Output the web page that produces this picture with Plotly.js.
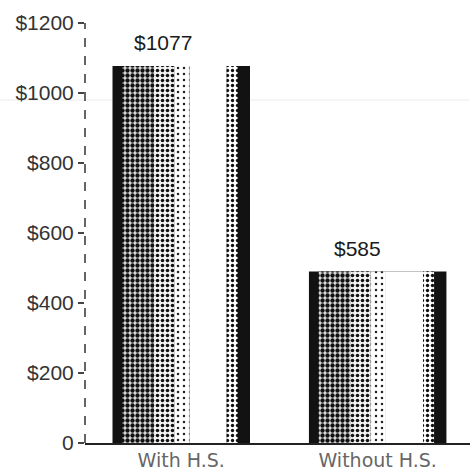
<!DOCTYPE html>
<html>
<head>
<meta charset="utf-8">
<script src="https://cdn.plot.ly/plotly-3.0.1.min.js"></script>
<style>
  html, body { margin: 0; padding: 0; background: #fff; }
  #chart { width: 470px; height: 470px; }
</style>
</head>
<body>
<div id="chart"></div>
<script>
// ---- data ----
const categories = ["With H.S.", "Without H.S."];
const barHeights = [1077, 490];          // bar tops as drawn
const valueLabels = ["$1077", "$585"];   // printed labels above bars
const tickValues = [0, 200, 400, 600, 800, 1000, 1200];
const tickLabels = ["0", "$200", "$400", "$600", "$800", "$1000", "$1200"];

// ---- styling of the cylinder-like shading (fractions of bar width) ----
const BAR_W = 0.70;
const layers = [
  { a: 0.00, b: 1.00, color: "#121212" },
  { a: 0.07, b: 0.30, color: "#e0e0e0", pat: { shape: ".", fgcolor: "#111", solidity: 0.6, size: 5 } },
  { a: 0.30, b: 0.45, color: "#f2f2f2", pat: { shape: ".", fgcolor: "#111", solidity: 0.4, size: 5 } },
  { a: 0.45, b: 0.56, color: "#ffffff", pat: { shape: ".", fgcolor: "#222", solidity: 0.14, size: 6 } },
  { a: 0.56, b: 0.83, color: "#ffffff" },
  { a: 0.83, b: 0.91, color: "#ffffff", pat: { shape: ".", fgcolor: "#111", solidity: 0.35, size: 5 } }
];

const traces = layers.map(L => {
  const m = { color: L.color, line: { width: 0 } };
  if (L.pat) m.pattern = Object.assign({ bgcolor: L.color, fillmode: "replace" }, L.pat);
  return {
    type: "bar",
    x: categories,
    y: barHeights,
    width: (L.b - L.a) * BAR_W,
    offset: -BAR_W / 2 + L.a * BAR_W,
    marker: m,
    hoverinfo: "skip",
    showlegend: false
  };
});

const annotations = categories.map((c, i) => ({
  x: c, y: barHeights[i], xref: "x", yref: "y",
  text: valueLabels[i], showarrow: false,
  yanchor: "bottom", yshift: 10, xshift: i === 0 ? -18 : -20,
  font: { family: "Liberation Sans, Arial, sans-serif", size: 21, color: "#1a1a1a" }
}));

const layout = {
  width: 470, height: 470,
  margin: { l: 85, r: 0, t: 23, b: 27, pad: 0 },
  paper_bgcolor: "#fff", plot_bgcolor: "#fff",
  barmode: "overlay",
  xaxis: {
    type: "category",
    range: [-0.49, 1.47],
    showgrid: false, zeroline: false,
    showline: true, linecolor: "#222", linewidth: 1.5,
    ticks: "",
    tickfont: { family: "DejaVu Sans, sans-serif", size: 19, color: "#666" },
    fixedrange: true
  },
  yaxis: {
    range: [0, 1200],
    tickvals: tickValues, ticktext: tickLabels,
    showgrid: false, zeroline: false, showline: false,
    ticks: "outside", ticklen: 6, tickwidth: 1.5, tickcolor: "#444",
    tickfont: { family: "Liberation Sans, Arial, sans-serif", size: 21, color: "#333" },
    fixedrange: true
  },
  shapes: [
    { type: "line", xref: "paper", yref: "paper", x0: 0, x1: 0, y0: 0, y1: 1,
      line: { color: "#333", width: 1.5, dash: "dash" } },
    { type: "line", xref: "paper", yref: "y", x0: -0.22, x1: 1, y0: 980, y1: 980,
      line: { color: "#ececec", width: 1 }, layer: "below" }
  ],
  annotations: annotations,
  showlegend: false
};

Plotly.newPlot("chart", traces, layout, { staticPlot: true, displayModeBar: false });
</script>
</body>
</html>
